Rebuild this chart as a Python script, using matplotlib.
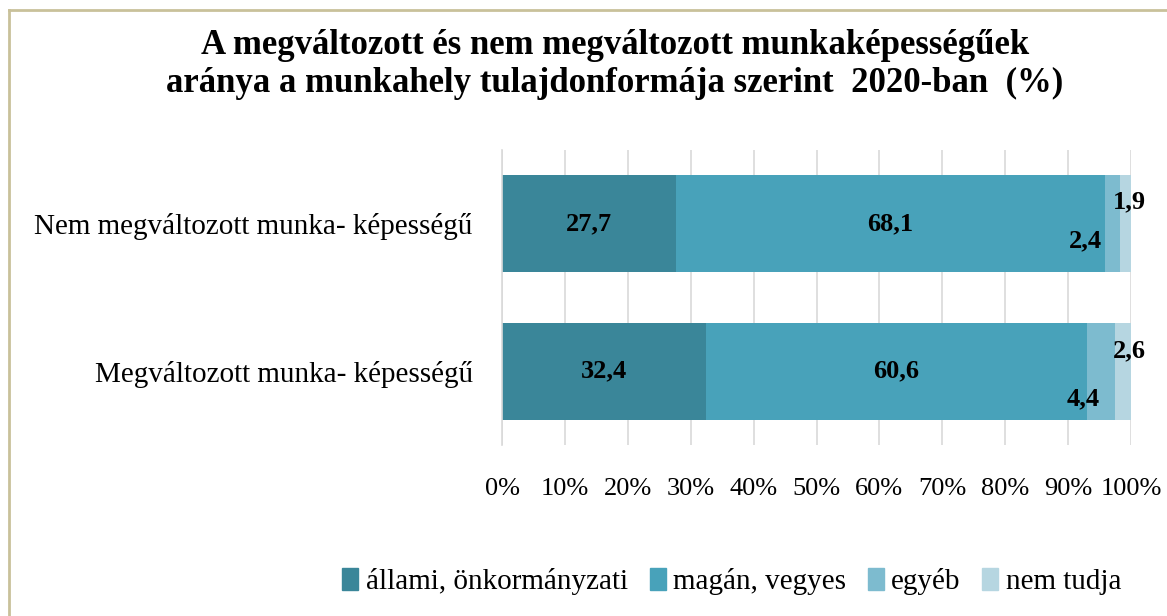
import numpy as np
import matplotlib.pyplot as plt
from matplotlib.lines import Line2D

# Data
categories = ['Megváltozott munka- képességű', 'Nem megváltozott munka- képességű']
series_names = ['állami, önkormányzati', 'magán, vegyes', 'egyéb', 'nem tudja']
allami = [32.4, 27.7]
magan = [60.6, 68.1]
egyeb = [4.4, 2.4]
nem_tudja = [2.6, 1.9]
colors = ['#3a8699', '#48a2ba', '#7dbbcf', '#b6d6e1']

plt.rcParams['font.family'] = ['Liberation Serif', 'DejaVu Serif']

fig = plt.figure(figsize=(11.67, 6.16), dpi=100)
ax = fig.add_axes([502/1167, 1 - 445/616, 629/1167, 295/616])

series = [allami, magan, egyeb, nem_tudja]
y = np.arange(len(categories))
left = np.zeros(len(categories))
bars = []
for vals, name, c in zip(series, series_names, colors):
    b = ax.barh(y, vals, left=left, height=0.66, color=c, label=name, zorder=2)
    bars.append((b, np.array(vals), left.copy()))
    left += np.array(vals)

# labels: big segments centered, small ones offset (points)
small_offsets = {
    (2, 0): (-13, -20), (3, 0): (5, 15),
    (2, 1): (-19, -12), (3, 1): (3, 16),
}
for si, (b, vals, lft) in enumerate(bars):
    for ci in range(len(categories)):
        txt = f'{vals[ci]:.1f}'.replace('.', ',')
        xc = lft[ci] + vals[ci] / 2
        off = small_offsets.get((si, ci), (0, 0))
        ax.annotate(txt, (xc, y[ci]), xytext=off, textcoords='offset points',
                    ha='center', va='center', fontsize=19, fontweight='bold',
                    color='black', zorder=3)

ax.set_xlim(0, 100)
ax.set_ylim(-0.5, 1.5)
ax.set_xticks(np.arange(0, 101, 10))
ax.set_xticklabels([f'{v}%' for v in range(0, 101, 10)], fontsize=19)
ax.set_yticks(y)
ax.set_yticklabels(categories, fontsize=21)
ax.tick_params(axis='x', length=0, pad=24)
ax.tick_params(axis='y', length=0, pad=21)
ax.grid(axis='x', color='#d9d9d9', linewidth=1.2, zorder=0)
for s in ['top', 'right', 'bottom']:
    ax.spines[s].set_visible(False)
ax.spines['left'].set_color('#d9d9d9')
ax.spines['left'].set_linewidth(1.2)

fig.text(0.527, 0.895, 'A megváltozott és nem megváltozott munkaképességűek\n'
         'aránya a munkahely tulajdonformája szerint  2020-ban  (%)',
         ha='center', va='center', fontsize=25, fontweight='bold',
         linespacing=1.2)

handles = [plt.Rectangle((0, 0), 1, 1, color=c) for c in colors]
fig.legend(handles, series_names, loc='center', bbox_to_anchor=(0.627, 0.056),
           ncol=4, frameon=False, fontsize=21, handlelength=0.55,
           handleheight=0.8, handletextpad=0.25, columnspacing=0.75)

# frame lines of the chart area
fig.add_artist(Line2D([9/1167, 9/1167], [0, 1 - 10/616], color='#c9c19a', lw=2))
fig.add_artist(Line2D([9/1167, 1], [1 - 10/616, 1 - 10/616], color='#c9c19a', lw=2))

fig.savefig('out.png', dpi=100)
